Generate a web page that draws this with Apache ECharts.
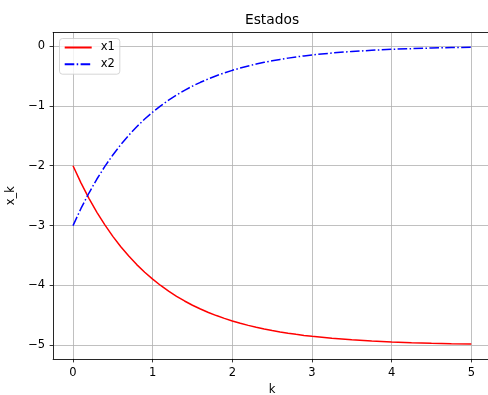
<!DOCTYPE html>
<html>
<head>
<meta charset="utf-8">
<script src="https://cdn.jsdelivr.net/npm/echarts@6/dist/echarts.min.js"></script>
<style>
  html, body { margin: 0; padding: 0; background: #fff; }
  #chart { width: 488px; height: 395px; }
</style>
</head>
<body>
<div id="chart"></div>
<script>
// valores
var kVals = [0, 0.1, 0.2, 0.3, 0.4, 0.5, 0.6, 0.7, 0.8, 0.9, 1.0,
             1.1, 1.2, 1.3, 1.4, 1.5, 1.6, 1.7, 1.8, 1.9, 2.0,
             2.1, 2.2, 2.3, 2.4, 2.5, 2.6, 2.7, 2.8, 2.9, 3.0,
             3.25, 3.5, 3.75, 4.0, 4.25, 4.5, 4.75, 5.0];
var x1Vals = [-2.000, -2.286, -2.544, -2.778, -2.989, -3.180, -3.354, -3.510, -3.652, -3.780, -3.896,
              -4.001, -4.096, -4.182, -4.260, -4.331, -4.394, -4.452, -4.504, -4.551, -4.594,
              -4.633, -4.668, -4.699, -4.728, -4.754, -4.777, -4.798, -4.818, -4.835, -4.851,
              -4.884, -4.909, -4.929, -4.945, -4.957, -4.967, -4.974, -4.980];
var x2Vals = [-3.000, -2.714, -2.456, -2.222, -2.011, -1.820, -1.646, -1.490, -1.348, -1.220, -1.104,
              -0.999, -0.904, -0.818, -0.740, -0.669, -0.606, -0.548, -0.496, -0.449, -0.406,
              -0.367, -0.332, -0.301, -0.272, -0.246, -0.223, -0.202, -0.182, -0.165, -0.149,
              -0.116, -0.091, -0.071, -0.055, -0.043, -0.033, -0.026, -0.020];
var seriesNames = ['x1', 'x2'];

function pairs(xs, ys) {
  var out = [];
  for (var i = 0; i < xs.length; i++) out.push([xs[i], ys[i]]);
  return out;
}
function fmt(v) {
  return String(v).replace('-', '\u2212');
}

var font = 'DejaVu Sans';
var spine = { color: '#000', width: 0.8 };
var chart = echarts.init(document.getElementById('chart'), null, { renderer: 'canvas' });

chart.setOption({
  animation: false,
  backgroundColor: '#fff',
  title: {
    text: 'Estados',
    left: 272, top: 13, padding: 0,
    textAlign: 'center',
    textStyle: { fontFamily: font, fontSize: 13.8, fontWeight: 'normal', color: '#000' }
  },
  grid: {
    left: 53.1, right: -3.2, top: 32.4, bottom: 36.1,
    outerBoundsMode: 'none', containLabel: false
  },
  legend: {
    orient: 'vertical',
    left: 59.5, top: 38.5,
    padding: [3, 5, 4, 4.2],
    itemWidth: 27, itemHeight: 14, itemGap: 4.7,
    itemStyle: { opacity: 0 },
    backgroundColor: 'rgba(255,255,255,0.8)',
    borderColor: '#cccccc', borderWidth: 0.8, borderRadius: 3,
    textStyle: { fontFamily: font, fontSize: 11.5, color: '#000', padding: [0, 0, 0, 4] },
    data: seriesNames
  },
  xAxis: [{
    type: 'value', min: -0.25, max: 5.25,
    name: 'k', nameLocation: 'middle', nameGap: 24,
    nameTextStyle: { fontFamily: font, fontSize: 11.5, color: '#000' },
    axisLine: { show: true, onZero: false, lineStyle: spine },
    axisTick: { show: true, inside: false, length: 3.5, lineStyle: spine },
    axisLabel: { showMinLabel: false, showMaxLabel: false, margin: 8, formatter: fmt,
                 fontFamily: font, fontSize: 11.5, color: '#000' },
    splitLine: { show: true, lineStyle: { color: '#b0b0b0', width: 0.8 } }
  }, {
    // borde superior
    type: 'value', position: 'top', min: -0.25, max: 5.25,
    axisLine: { show: true, onZero: false, lineStyle: spine },
    axisTick: { show: false }, axisLabel: { show: false }, splitLine: { show: false }
  }],
  yAxis: {
    type: 'value', min: -5.228, max: 0.228,
    name: 'x_k', nameLocation: 'middle', nameGap: 31, nameRotate: 90,
    nameTextStyle: { fontFamily: font, fontSize: 11.5, color: '#000' },
    axisLine: { show: true, onZero: false, lineStyle: spine },
    axisTick: { show: true, inside: false, length: 3.5, lineStyle: spine },
    axisLabel: { showMinLabel: false, showMaxLabel: false, margin: 8, formatter: fmt,
                 fontFamily: font, fontSize: 11.5, color: '#000' },
    splitLine: { show: true, lineStyle: { color: '#b0b0b0', width: 0.8 } }
  },
  series: [
    {
      name: seriesNames[0], type: 'line', data: pairs(kVals, x1Vals),
      symbol: 'none', showSymbol: false,
      lineStyle: { color: '#ff0000', width: 1.5 },
      itemStyle: { color: '#ff0000' }
    },
    {
      name: seriesNames[1], type: 'line', data: pairs(kVals, x2Vals),
      symbol: 'none', showSymbol: false,
      lineStyle: { color: '#0000ff', width: 1.5, type: [9.6, 2.4, 1.5, 2.4] },
      itemStyle: { color: '#0000ff' }
    }
  ]
});
</script>
</body>
</html>
